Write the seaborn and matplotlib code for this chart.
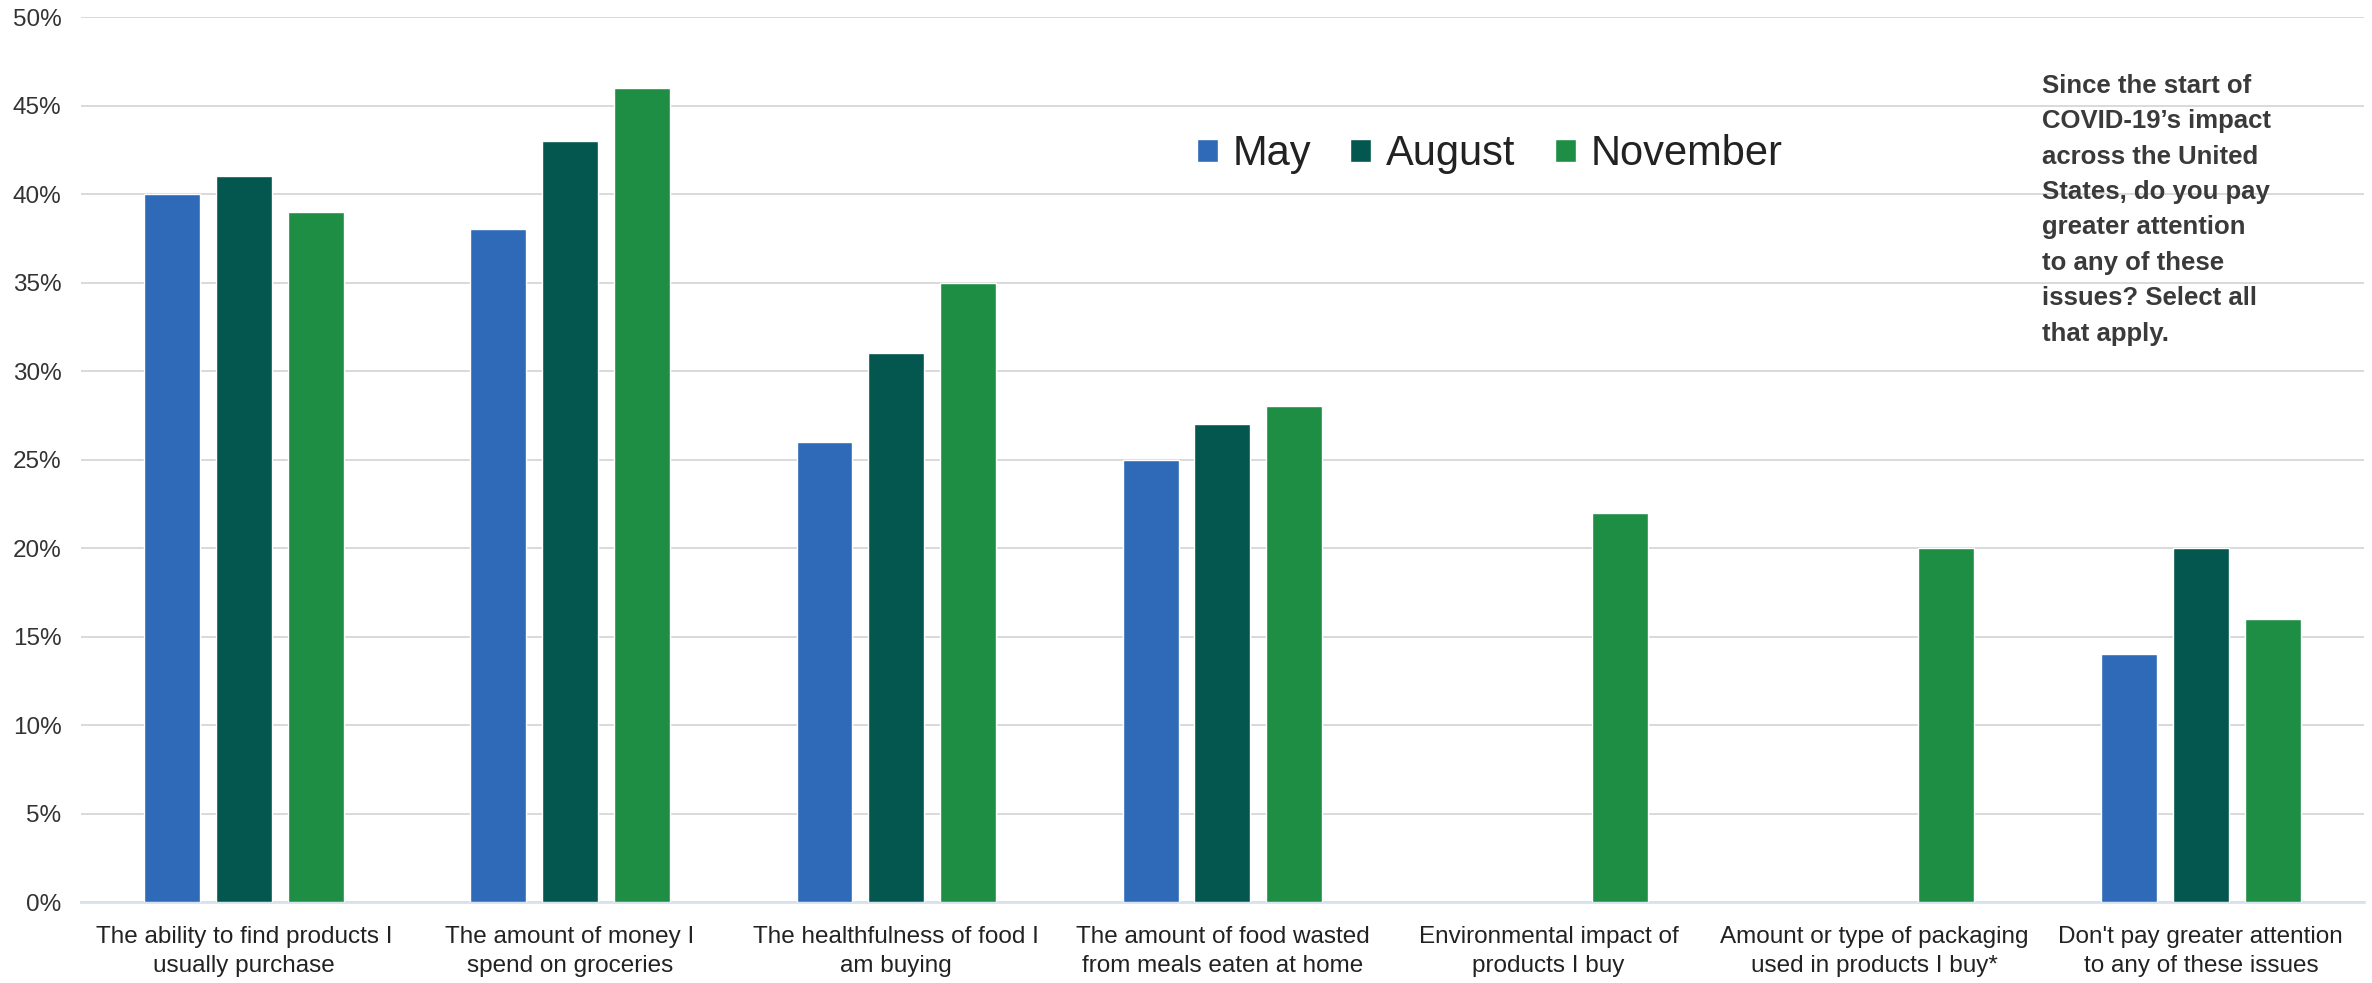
import pandas as pd
import numpy as np
import matplotlib.pyplot as plt
import seaborn as sns

# Data (percent of respondents)
categories = [
    "The ability to find products I\nusually purchase",
    "The amount of money I\nspend on groceries",
    "The healthfulness of food I\nam buying",
    "The amount of food wasted\nfrom meals eaten at home",
    "Environmental impact of\nproducts I buy",
    "Amount or type of packaging\nused in products I buy*",
    "Don't pay greater attention\nto any of these issues",
]
months = ["May", "August", "November"]
may = [40, 38, 26, 25, np.nan, np.nan, 14]
august = [41, 43, 31, 27, np.nan, np.nan, 20]
november = [39, 46, 35, 28, 22, 20, 16]
y_ticks = [0, 5, 10, 15, 20, 25, 30, 35, 40, 45, 50]

colors = ["#2E6AB7", "#03574F", "#1E8E45"]

df = pd.DataFrame({"category": categories * 3,
                   "month": [m for m in months for _ in categories],
                   "value": may + august + november})

sns.set_theme(style="white")
plt.rcParams['font.family'] = ['Liberation Sans', 'DejaVu Sans']

fig = plt.figure(figsize=(23.72, 9.83), dpi=100)
ax = fig.add_axes([0.0341, 0.0824, 0.9625, 0.9003])

sns.barplot(data=df, x="category", y="value", hue="month", hue_order=months,
            palette=colors, width=0.66, gap=0.22, errorbar=None,
            saturation=1, ax=ax, zorder=3)

ax.set_ylim(0, 50)
ax.set_yticks(y_ticks)
ax.set_yticklabels([f"{t}%" for t in y_ticks], fontsize=17.5, color="#333333")
ax.set_xlim(-0.5, len(categories) - 0.5)
ax.tick_params(axis="x", labelsize=17.5, colors="#222222", pad=17, length=0)
ax.tick_params(axis="y", length=0, pad=14)
for lbl in ax.get_xticklabels():
    lbl.set_linespacing(1.45)
ax.set_xlabel("")
ax.set_ylabel("")
ax.grid(axis="y", color="#D9D9D9", linewidth=1.4, zorder=0)
ax.set_axisbelow(True)
for s in ["top", "right", "left"]:
    ax.spines[s].set_visible(False)
ax.spines["bottom"].set_color("#D6E2EE")
ax.spines["bottom"].set_linewidth(2)

leg = ax.legend(loc="center", bbox_to_anchor=(0.617, 0.845), ncol=3, frameon=False,
                fontsize=30, handlelength=0.5, handleheight=0.5, handletextpad=0.35,
                columnspacing=0.95)
for t in leg.get_texts():
    t.set_color("#222222")

fig.text(0.861, 0.925,
         "Since the start of\nCOVID-19\u2019s impact\nacross the United\nStates, do you pay\n"
         "greater attention\nto any of these\nissues? Select all\nthat apply.",
         fontsize=18.5, fontweight="bold", color="#3A3A3A", va="top", ha="left",
         linespacing=1.6)

fig.savefig("out.png", dpi=100)
